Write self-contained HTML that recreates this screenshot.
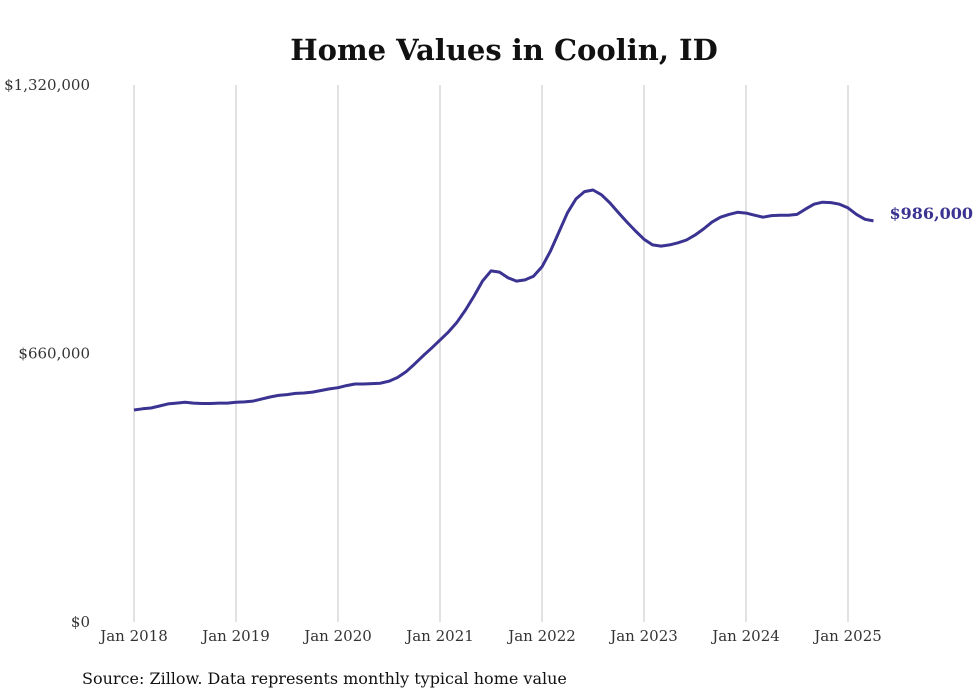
<!DOCTYPE html>
<html><head><meta charset="utf-8"><style>
body{margin:0;background:#fff;}
svg{display:block;font-family:"DejaVu Serif","Liberation Serif",serif;}
</style></head><body>
<svg id="chart" width="980" height="699" viewBox="0 0 980 699">
<text x="504" y="60" text-anchor="middle" font-size="29" font-weight="bold" fill="#111">Home Values in Coolin, ID</text>
<g id="grid"></g>
<g id="yaxis"></g>
<g id="xaxis"></g>
<path id="line" fill="none" stroke="#3b3391" stroke-width="3" stroke-linejoin="round"/>
<text id="endlabel" font-size="16" font-weight="bold" fill="#3b3391"></text>
<text x="82" y="684" font-size="16" fill="#111">Source: Zillow. Data represents monthly typical home value</text>
</svg>
<script>
const values = [521,524,526,531,536,538,540,538,537,537,538,538,
540,541,543,548,553,557,559,562,563,565,569,573,
576,581,585,585,586,587,592,601,615,634,654,673,
693,713,737,767,801,838,863,860,846,838,841,850,
873,912,959,1006,1040,1058,1062,1050,1030,1006,983,961,
941,927,924,927,932,939,951,966,983,995,1002,1007,
1005,1000,995,999,1000,1000,1002,1015,1027,1032,1031,1027,
1018,1002,990,986];
const yTicks = [0,660000,1320000];
const yTickLabels = ["$0","$660,000","$1,320,000"];
const xYears = [2018,2019,2020,2021,2022,2023,2024,2025];
const endLabel = "$986,000";

(function(){
const NS="http://www.w3.org/2000/svg";
const plotTop=85,plotBottom=622,x0=134,pxPerMonth=8.5,yMax=1320000;
const xs=m=>x0+m*pxPerMonth;
const ys=v=>plotBottom-(v/yMax)*(plotBottom-plotTop);
function mk(tag,attrs,parent,text){const e=document.createElementNS(NS,tag);for(const k in attrs)e.setAttribute(k,attrs[k]);if(text!==undefined)e.textContent=text;parent.appendChild(e);return e;}
const grid=document.getElementById('grid'),xa=document.getElementById('xaxis'),ya=document.getElementById('yaxis');
xYears.forEach((yr)=>{
  const x=xs((yr-2018)*12);
  const l=mk('line',{x1:x,x2:x,y1:plotTop,y2:plotBottom,stroke:'#c4c4c4','stroke-width':1},grid);
  
  
  const t=mk('text',{x:x,y:641,'text-anchor':'middle','font-size':15,fill:'#333'},xa,'Jan '+yr);
  
  
});
yTicks.forEach((v,i)=>{
  const t=mk('text',{x:90,y:ys(v)+5,'text-anchor':'end','font-size':15,fill:'#333'},ya,yTickLabels[i]);
  
  
});
let d='';
values.forEach((v,i)=>{d+=(i?'L':'M')+xs(i).toFixed(1)+','+ys(v*1000).toFixed(1);});
document.getElementById('line').setAttribute('d',d);
const last=values.length-1;
const el=document.getElementById('endlabel');
el.setAttribute('x',xs(last)+16);
el.setAttribute('y',ys(values[last]*1000)-2);
el.textContent=endLabel;
})();
</script>
</body></html>
